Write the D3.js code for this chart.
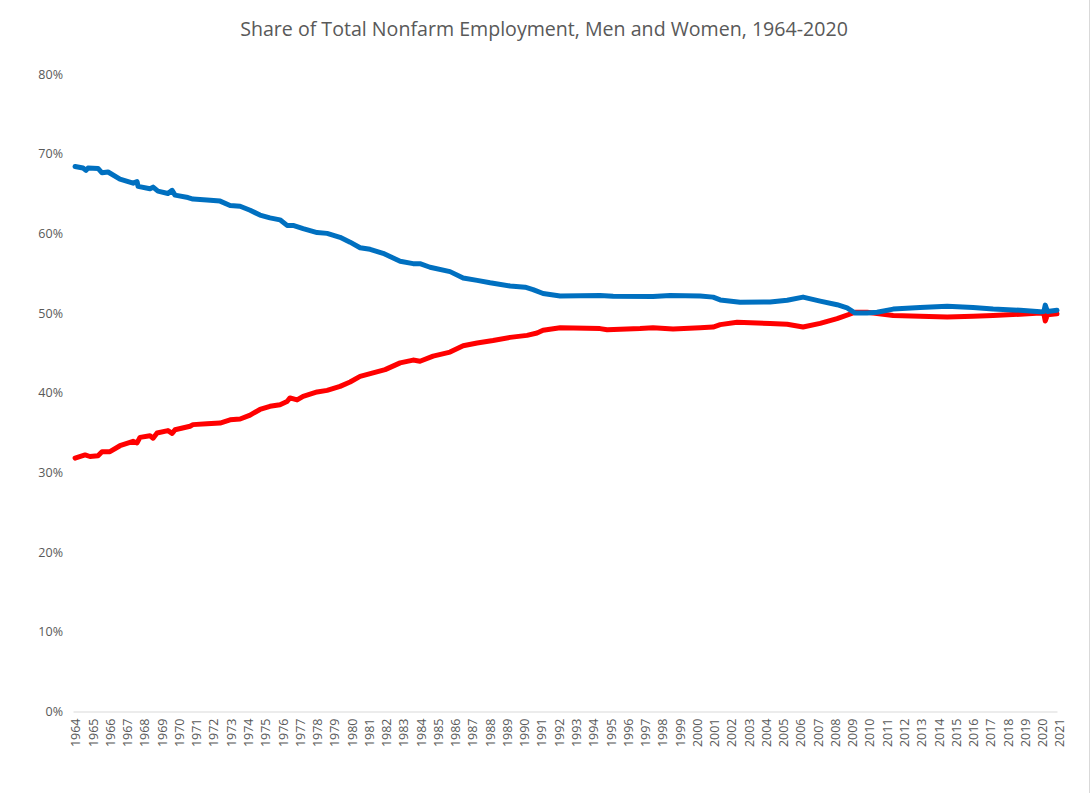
<!DOCTYPE html>
<html>
<head>
<meta charset="utf-8">
<script src="https://cdn.jsdelivr.net/npm/d3@7"></script>
<style>
  html, body { margin: 0; padding: 0; background: #fff; }
  svg { display: block; }
  text { font-family: "Open Sans", "Liberation Sans", sans-serif; fill: #595959; }
</style>
</head>
<body>
<svg id="chart" width="1090" height="793"></svg>
<script>
// ---- Data ----
const chartTitle = "Share of Total Nonfarm Employment, Men and Women, 1964-2020";

const yTickValues = [0, 0.1, 0.2, 0.3, 0.4, 0.5, 0.6, 0.7, 0.8];
const yearLabels = d3.range(1964, 2022); // 1964 ... 2021

// Men (blue): time (decimal year) and share (%)
const menTimes = [1964.12, 1964.58, 1964.75, 1964.87, 1965.45, 1965.68, 1966.03, 1966.72, 1967.48, 1967.71,
  1967.77, 1968.46, 1968.64, 1968.92, 1969.50, 1969.74, 1969.91, 1970.66, 1970.95, 1971.76,
  1972.52, 1973.10, 1973.68, 1974.26, 1974.83, 1975.41, 1975.99, 1976.40, 1976.75, 1977.33,
  1978.14, 1978.72, 1979.47, 1980.05, 1980.63, 1981.21, 1981.96, 1982.95, 1983.70, 1984.10,
  1984.68, 1985.84, 1986.60, 1987.41, 1988.16, 1989.32, 1990.19, 1990.65, 1991.23, 1992.22,
  1994.53, 1995.29, 1997.60, 1998.59, 2000.33, 2001.08, 2001.49, 2002.64, 2004.38, 2005.37,
  2006.29, 2007.28, 2008.26, 2008.84, 2009.31, 2010.00, 2010.58, 2011.51, 2013.07, 2014.64,
  2016.14, 2017.30, 2018.87, 2020.03, 2020.24, 2020.32, 2020.45, 2021.00];
const menShare = [68.4, 68.2, 67.9, 68.2, 68.15, 67.6, 67.7, 66.8, 66.3, 66.5,
  65.9, 65.6, 65.8, 65.3, 65.0, 65.4, 64.8, 64.5, 64.3, 64.2,
  64.05, 63.5, 63.4, 62.9, 62.3, 61.95, 61.7, 61.0, 61.0, 60.6,
  60.1, 60.0, 59.5, 58.9, 58.2, 58.0, 57.5, 56.5, 56.2, 56.2,
  55.75, 55.2, 54.4, 54.1, 53.8, 53.4, 53.25, 52.95, 52.45, 52.15,
  52.2, 52.1, 52.07, 52.2, 52.15, 52.0, 51.65, 51.35, 51.4, 51.6,
  52.0, 51.5, 51.05, 50.65, 50.0, 50.0, 50.1, 50.5, 50.7, 50.85,
  50.7, 50.5, 50.35, 50.15, 50.2, 51.0, 50.2, 50.35];

// Women (red): time (decimal year) and share (%)
const womenTimes = [1964.12, 1964.70, 1964.98, 1965.45, 1965.68, 1966.14, 1966.72, 1967.48, 1967.71, 1967.88,
  1968.46, 1968.64, 1968.87, 1969.50, 1969.74, 1969.91, 1970.78, 1970.95, 1971.76, 1972.52,
  1973.10, 1973.68, 1974.26, 1974.83, 1975.41, 1975.99, 1976.40, 1976.57, 1976.98, 1977.33,
  1978.14, 1978.72, 1979.47, 1980.05, 1980.63, 1981.38, 1982.08, 1982.95, 1983.70, 1984.10,
  1984.86, 1985.84, 1986.60, 1987.41, 1988.33, 1989.32, 1990.30, 1990.88, 1991.23, 1992.22,
  1994.53, 1994.94, 1996.85, 1997.60, 1998.76, 2000.33, 2001.08, 2001.49, 2002.47, 2004.38,
  2005.37, 2006.29, 2007.28, 2008.26, 2009.31, 2010.00, 2011.51, 2013.07, 2014.64, 2016.14,
  2017.30, 2018.87, 2020.03, 2020.24, 2020.32, 2020.45, 2021.00];
const womenShare = [31.8, 32.2, 32.0, 32.1, 32.6, 32.6, 33.35, 33.9, 33.7, 34.4,
  34.6, 34.3, 34.95, 35.25, 34.9, 35.35, 35.8, 36.0, 36.1, 36.2,
  36.6, 36.7, 37.2, 37.9, 38.3, 38.5, 38.9, 39.35, 39.1, 39.55,
  40.1, 40.3, 40.8, 41.35, 42.05, 42.5, 42.9, 43.75, 44.1, 43.95,
  44.6, 45.1, 45.9, 46.25, 46.55, 46.95, 47.2, 47.5, 47.85, 48.15,
  48.05, 47.9, 48.05, 48.15, 48.0, 48.15, 48.25, 48.55, 48.85, 48.7,
  48.6, 48.25, 48.7, 49.3, 50.1, 50.1, 49.7, 49.6, 49.5, 49.6,
  49.7, 49.85, 50.0, 49.9, 49.0, 49.8, 49.9];

// ---- Drawing ----
const svg = d3.select("#chart");
const W = 1090, H = 793;
const plot = { left: 73, right: 1057, top: 74, bottom: 711.5 };

// chart area border (right edge visible in reference)
svg.append("line")
  .attr("x1", 1089.5).attr("x2", 1089.5).attr("y1", 0).attr("y2", H)
  .attr("stroke", "#d9d9d9").attr("stroke-width", 1);

const x = d3.scaleLinear().domain([1964, 2021]).range([plot.left, plot.right]);
const y = d3.scaleLinear().domain([0, 0.8]).range([plot.bottom, plot.top]);

// Title
const title = svg.append("text")
  .attr("x", 544).attr("y", 36)
  .attr("text-anchor", "middle")
  .style("font-size", "20px")
  .text(chartTitle);
// fit title width to the reference's width (~608px)
const tw = title.node().getComputedTextLength();
title.style("font-size", (20 * 608 / tw).toFixed(2) + "px");

// Y axis (labels only, no line)
const yAxis = d3.axisLeft(y)
  .tickValues(yTickValues)
  .tickFormat(d3.format(".0%"))
  .tickSize(0)
  .tickPadding(10);
const gy = svg.append("g").attr("transform", `translate(${plot.left},0)`).call(yAxis);
gy.select(".domain").remove();
gy.selectAll("text")
  .style("font-size", "12.5px")
  .style("font-family", "'Open Sans', sans-serif")
  .attr("fill", "#595959");

// X axis line + rotated year labels
const xAxis = d3.axisBottom(x)
  .tickValues(yearLabels)
  .tickFormat(d3.format("d"))
  .tickSize(0);
const gx = svg.append("g").attr("transform", `translate(0,${plot.bottom})`).call(xAxis);
gx.select(".domain").attr("stroke", "#d9d9d9").attr("stroke-width", 1);
gx.selectAll(".tick").attr("transform", d => `translate(${x(d) + 3},0)`);
gx.selectAll(".tick text")
  .attr("transform", "rotate(-90)")
  .attr("x", -7)
  .attr("y", 0)
  .attr("dy", "0.35em")
  .attr("text-anchor", "end")
  .style("font-size", "12.5px")
  .style("font-family", "'Open Sans', sans-serif")
  .attr("fill", "#595959");

// Lines
const line = d3.line()
  .x(d => x(d[0]))
  .y(d => y(d[1] / 100))
  .curve(d3.curveLinear);

const womenData = womenTimes.map((t, i) => [t, womenShare[i]]);
const menData = menTimes.map((t, i) => [t, menShare[i]]);

svg.append("path")
  .datum(womenData)
  .attr("d", line)
  .attr("fill", "none")
  .attr("stroke", "#FF0000")
  .attr("stroke-width", 5)
  .attr("stroke-linejoin", "round")
  .attr("stroke-linecap", "round");

svg.append("path")
  .datum(menData)
  .attr("d", line)
  .attr("fill", "none")
  .attr("stroke", "#0070C0")
  .attr("stroke-width", 5)
  .attr("stroke-linejoin", "round")
  .attr("stroke-linecap", "round");
</script>
</body>
</html>
